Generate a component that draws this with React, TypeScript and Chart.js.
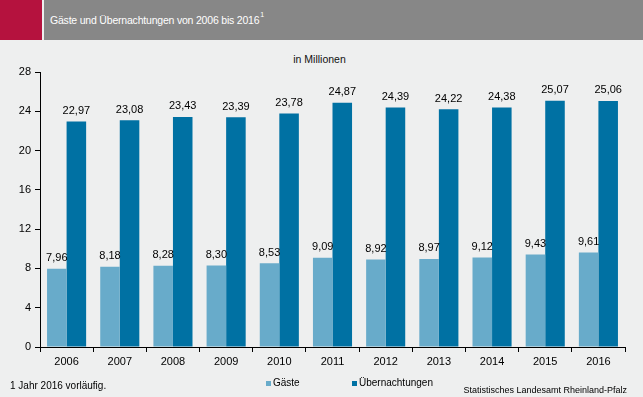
import React, { useEffect, useRef } from "react";
import { Chart, registerables } from "chart.js";

Chart.register(...registerables);

const years = ["2006", "2007", "2008", "2009", "2010", "2011", "2012", "2013", "2014", "2015", "2016"];
const gaeste = [7.96, 8.18, 8.28, 8.3, 8.53, 9.09, 8.92, 8.97, 9.12, 9.43, 9.61];
const uebernachtungen = [22.97, 23.08, 23.43, 23.39, 23.78, 24.87, 24.39, 24.22, 24.38, 25.07, 25.06];
const yTicks = [0, 4, 8, 12, 16, 20, 24, 28];

const LIGHT = "#68abca";
const DARK = "#0071a3";
const FONT = "Arial, 'Liberation Sans', sans-serif";

const valueLabels = {
  id: "valueLabels",
  afterDatasetsDraw(chart: any) {
    const ctx = chart.ctx;
    ctx.save();
    ctx.font = `11px ${FONT}`;
    ctx.fillStyle = "#000";
    ctx.textAlign = "center";
    ctx.textBaseline = "bottom";
    chart.data.datasets.forEach((ds: any, i: number) => {
      const meta = chart.getDatasetMeta(i);
      meta.data.forEach((bar: any, j: number) => {
        const v = ds.data[j] as number;
        ctx.fillText(v.toFixed(2).replace(".", ","), bar.x, bar.y - 5);
      });
    });
    ctx.restore();
  },
};

export default function App() {
  const ref = useRef<HTMLCanvasElement>(null);
  useEffect(() => {
    const chart = new Chart(ref.current!, {
      type: "bar",
      data: {
        labels: years,
        datasets: [
          { label: "Gäste", data: gaeste, backgroundColor: LIGHT },
          { label: "Übernachtungen", data: uebernachtungen, backgroundColor: DARK },
        ],
      },
      options: {
        animation: false,
        responsive: false,
        maintainAspectRatio: false,
        layout: { padding: { top: 32, right: 18, left: 0, bottom: 0 } },
        plugins: { legend: { display: false }, tooltip: { enabled: false }, title: { display: false } },
        datasets: { bar: { categoryPercentage: 0.735, barPercentage: 1 } } as any,
        scales: {
          x: {
            offset: true,
            grid: { offset: true, drawOnChartArea: false, drawTicks: true, tickLength: 5, color: "#000" },
            border: { color: "#000", width: 1 },
            ticks: { color: "#000", font: { family: FONT, size: 11 }, padding: 3 },
            afterFit: (s: any) => { s.height = 33; },
          },
          y: {
            min: 0,
            max: 28,
            afterBuildTicks: (s: any) => { s.ticks = yTicks.map((v) => ({ value: v })); },
            grid: { drawOnChartArea: false, drawTicks: true, tickLength: 5, color: "#000" },
            border: { color: "#000", width: 1 },
            ticks: { color: "#000", font: { family: FONT, size: 11 }, padding: 4 },
            afterFit: (s: any) => { s.width = 40; },
          },
        },
      },
      plugins: [valueLabels],
    });
    return () => chart.destroy();
  }, []);

  const txt: React.CSSProperties = { position: "absolute", fontFamily: FONT, color: "#000", whiteSpace: "nowrap" };

  return (
    <div style={{ position: "fixed", left: 0, top: 0, width: 643, height: 397, background: "#eeefef", overflow: "hidden" }}>
      <div style={{ position: "absolute", left: 0, top: 0, width: 42, height: 40, background: "#b5123e" }} />
      <div style={{ position: "absolute", left: 44, top: 0, width: 599, height: 40, background: "#878787" }} />
      <div style={{ ...txt, left: 50, top: 13, fontSize: 10.5, letterSpacing: -0.2, color: "#fff", lineHeight: "14px" }}>
        Gäste und Übernachtungen von 2006 bis 2016<sup style={{ fontSize: 7, verticalAlign: "top", position: "relative", top: -5, marginLeft: 1 }}>1</sup>
      </div>
      <div style={{ ...txt, left: 0, width: 643, top: 52, textAlign: "center", fontSize: 10.5, lineHeight: "14px", color: "#111" }}>
        <span style={{ position: "relative", left: -2 }}>in Millionen</span>
      </div>
      <canvas ref={ref} width={643} height={340} style={{ position: "absolute", left: 0, top: 40, width: 643, height: 340 }} />
      <div style={{ ...txt, left: 10, top: 379, fontSize: 10, lineHeight: "14px" }}>1 Jahr 2016 vorläufig.</div>
      <div style={{ ...txt, left: 266, top: 376, fontSize: 10, lineHeight: "14px" }}>
        <span style={{ display: "inline-block", width: 5, height: 5, background: LIGHT, marginRight: 2 }} />Gäste
      </div>
      <div style={{ ...txt, left: 352, top: 376, fontSize: 10, lineHeight: "14px" }}>
        <span style={{ display: "inline-block", width: 5, height: 5, background: DARK, marginRight: 2 }} />Übernachtungen
      </div>
      <div style={{ ...txt, right: 16, top: 384, fontSize: 9, lineHeight: "12px" }}>Statistisches Landesamt Rheinland-Pfalz</div>
    </div>
  );
}
